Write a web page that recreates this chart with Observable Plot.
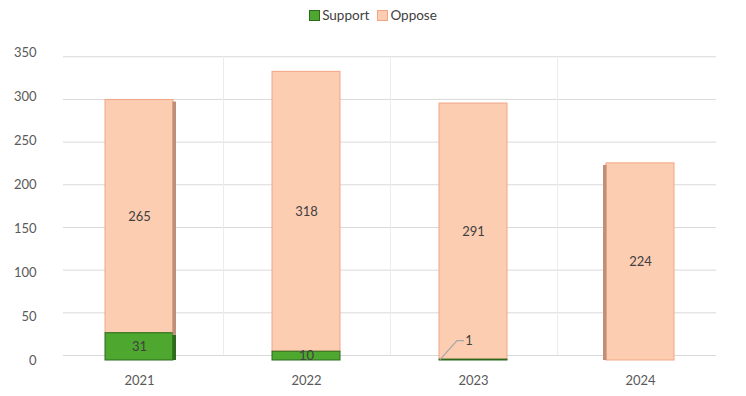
<!DOCTYPE html>
<html>
<head>
<meta charset="utf-8">
<script src="https://cdn.jsdelivr.net/npm/d3@7"></script>
<script src="https://cdn.jsdelivr.net/npm/@observablehq/plot@0.6"></script>
<style>
  html, body { margin: 0; padding: 0; background: #fff; }
  #wrap { position: relative; width: 746px; height: 396px; font-family: Lato, "Open Sans", sans-serif; }
  #legend { position: absolute; top: 7px; left: 0; width: 746px; text-align: center; font-size: 13.5px; color: #404040; }
  #legend span.item { display: inline-flex; align-items: center; margin: 0 4px; }
  #legend span.sw { display: inline-block; width: 9px; height: 9px; margin-right: 2px; }
  #chart { position: absolute; top: 0; left: 0; }
</style>
</head>
<body>
<div id="wrap">
  <div id="chart"></div>
  <div id="legend"></div>
</div>
<script>
const years = ["2021", "2022", "2023", "2024"];
const support = [31, 10, 1, 0];
const oppose = [265, 318, 291, 224];
const yTicks = [0, 50, 100, 150, 200, 250, 300, 350];
const seriesNames = ["Support", "Oppose"];

const green = "#4ea72e", greenEdge = "#2b6a1c", greenSide = "#2e6b1f";
const peach = "#fdcdb2", peachEdge = "#f1a585", peachSide = "#c08f7a";

const supportRows = years.map((y, i) => ({year: y, lo: 0, hi: support[i], value: support[i]}));
const opposeRows = years.map((y, i) => ({year: y, lo: support[i], hi: support[i] + oppose[i], value: oppose[i]}));

// legend
const legend = document.getElementById("legend");
[[seriesNames[0], green, greenEdge], [seriesNames[1], peach, peachEdge]].forEach(([name, fill, edge]) => {
  const it = document.createElement("span");
  it.className = "item";
  it.innerHTML = `<span class="sw" style="background:${fill};border:1px solid ${edge}"></span>${name}`;
  legend.appendChild(it);
});

// 3D side strips and leader labels drawn from the scales
function extras(index, scales) {
  const {x, y} = scales;
  const g = d3.create("svg:g");
  const bw = x.bandwidth();
  [[0, "right"], [years.length - 1, "left"]].forEach(([i, side]) => {
    const x0 = x(years[i]);
    const sx = side === "right" ? x0 + bw - 0.5 : x0 - 3;
    if (support[i] > 0) {
      g.append("rect").attr("x", sx).attr("width", 3.5)
        .attr("y", y(support[i]) + 2).attr("height", y(0) - y(support[i]) - 2)
        .attr("fill", greenSide);
    }
    g.append("rect").attr("x", sx).attr("width", 3.5)
      .attr("y", y(support[i] + oppose[i]) + 2).attr("height", y(support[i]) - y(support[i] + oppose[i]) - (support[i] > 0 ? 0 : 2))
      .attr("fill", peachSide);
  });
  support.forEach((v, i) => {
    if (v > 0 && v < 5) {
      const x0 = x(years[i]) + 1, y0 = y(v / 2);
      g.append("path")
        .attr("d", `M${x0},${y0}L${x0 + 17},${y0 - 19}L${x0 + 24},${y0 - 19}`)
        .attr("fill", "none").attr("stroke", "#a6a6a6").attr("stroke-width", 1.2);
      g.append("text").attr("x", x0 + 29).attr("y", y0 - 19).attr("dy", "0.35em")
        .attr("font-size", 13).attr("fill", "#404040").text(v);
    }
  });
  return g.node();
}

const chart = Plot.plot({
  width: 746,
  height: 396,
  marginTop: 52,
  marginBottom: 36,
  marginLeft: 54,
  marginRight: 22,
  style: {fontFamily: "Lato, 'Open Sans', sans-serif", fontSize: "13px", color: "#595959", background: "transparent"},
  x: {domain: years, paddingInner: 0.594, paddingOuter: 0.297, label: null, tickSize: 0, tickPadding: 15},
  y: {domain: [0, 350], ticks: yTicks, label: null, tickSize: 0, tickPadding: 18},
  marks: [
    Plot.ruleY(yTicks, {y: d => d * 0.97, dy: -5, stroke: "#d9d9d9", strokeWidth: 1, insetLeft: 9, insetRight: 8}),
    Plot.ruleX(years.slice(0, -1), {x: d => d, dx: 84, y1: 0, y2: 350 * 0.97, dy: -5, stroke: "#ececec"}),
    Plot.barY(opposeRows, {x: "year", y1: "lo", y2: "hi", fill: peach, stroke: peachEdge, strokeWidth: 1}),
    Plot.barY(supportRows.filter(d => d.value > 0), {x: "year", y1: "lo", y2: "hi", fill: green, stroke: greenEdge, strokeWidth: 1}),
    extras,
    Plot.text(opposeRows, {x: "year", y: d => (d.lo + d.hi) / 2, text: d => d.value, fill: "#404040", fontSize: 13}),
    Plot.text(supportRows.filter(d => d.value >= 5), {x: "year", y: d => (d.lo + d.hi) / 2, text: d => d.value, fill: "#404040", fontSize: 13}),
    Plot.axisX({tickSize: 0, tickPadding: 15, fill: "#595959", fontSize: 13}),
    Plot.axisY({ticks: yTicks, tickSize: 0, tickPadding: 18, fill: "#595959", fontSize: 13})
  ]
});
document.getElementById("chart").appendChild(chart);
</script>
</body>
</html>
